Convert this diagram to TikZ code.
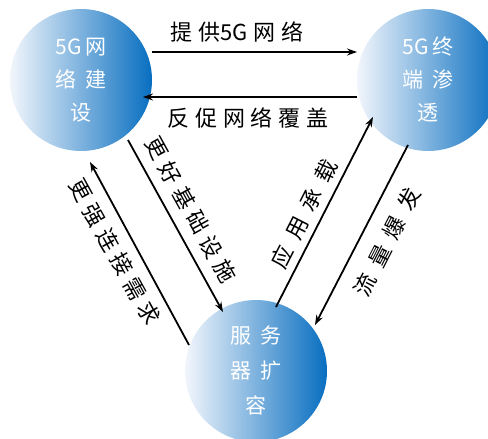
\documentclass[tikz,border=0pt]{standalone}
\usepackage{fontspec}
\setmainfont{Liberation Sans}
\newfontfamily\cjkn{Noto Sans CJK SC}
\newfontfamily\cjkc[LetterSpace=40]{Noto Sans CJK SC}
\newfontfamily\cjkl[LetterSpace=26]{Noto Sans CJK SC}
\newfontfamily\cjkd[LetterSpace=28]{Noto Sans CJK SC}
\newfontfamily\cjkr[LetterSpace=46]{Noto Sans CJK SC}
\usetikzlibrary{arrows.meta,calc}
\definecolor{lightb}{RGB}{242,246,252}
\definecolor{darkb}{RGB}{8,110,192}
\begin{document}
\begin{tikzpicture}[x=1pt,y=-1pt,
  ball/.style={circle,minimum size=142pt,inner sep=0pt,outer sep=0pt,
    left color=lightb,right color=darkb,text=white,align=center,
    font=\cjkc\fontsize{21}{33}\selectfont},
  lab/.style={inner sep=0pt,text=black,font=\cjkl\fontsize{22}{24}\selectfont},
  labd/.style={inner sep=0pt,text=black,font=\cjkd\fontsize{22}{24}\selectfont},
  labr/.style={inner sep=0pt,text=black,font=\cjkr\fontsize{22}{24}\selectfont},
  arr/.style={line width=1.8pt,-{Stealth[length=10pt,width=7pt]}}]
\useasboundingbox (0,0) rectangle (488,439);
\node[ball] (c1) at (81,80) {{\cjkn 5G}\hspace{3pt}网\\络建\\设};
\node[ball] (c2) at (428,80) {{\cjkn 5G}\hspace{3pt}终\\端渗\\透};
\node[ball,font=\cjkc\fontsize{21}{35}\selectfont] (c3) at (256,371) {服务\\器扩\\容};
% horizontal arrows
\draw[arr] ([yshift=28pt]c1.east) -- ([yshift=28pt]c2.west);
\draw[arr] ([yshift=-17pt]c2.west) -- ([xshift=-9pt,yshift=-17pt]c1.east);
% left pair
\draw[arr] ($(c1.center)+(47,60)$) -- ($(c3.center)+(-33,-59)$);
\draw[arr] ($(c3.center)+(-67,-26)$) -- ($(c1.center)+(9,82)$);
% right pair
\draw[arr] ($(c3.center)+(20,-64)$) -- ($(c2.center)+(-55,37)$);
\draw[arr] ($(c2.center)+(-20,65)$) -- ($(c3.center)+(59,-46)$);
% labels
\node[lab] (t1) at (237,32) {提供{\cjkn 5G}\hspace{6pt}网络};
\node[lab] (t2) at (248,118) {反促网络覆盖};
\node[labd,rotate=-61] (t3) at (191,210) {更好基础设施};
\node[labd,rotate=-61] (t4) at (115,252) {更强连接需求};
\node[labr,rotate=63] (t5) at (304,214) {应用承载};
\node[labr,rotate=63] (t6) at (387,242) {流量爆发};
\end{tikzpicture}
\end{document}
